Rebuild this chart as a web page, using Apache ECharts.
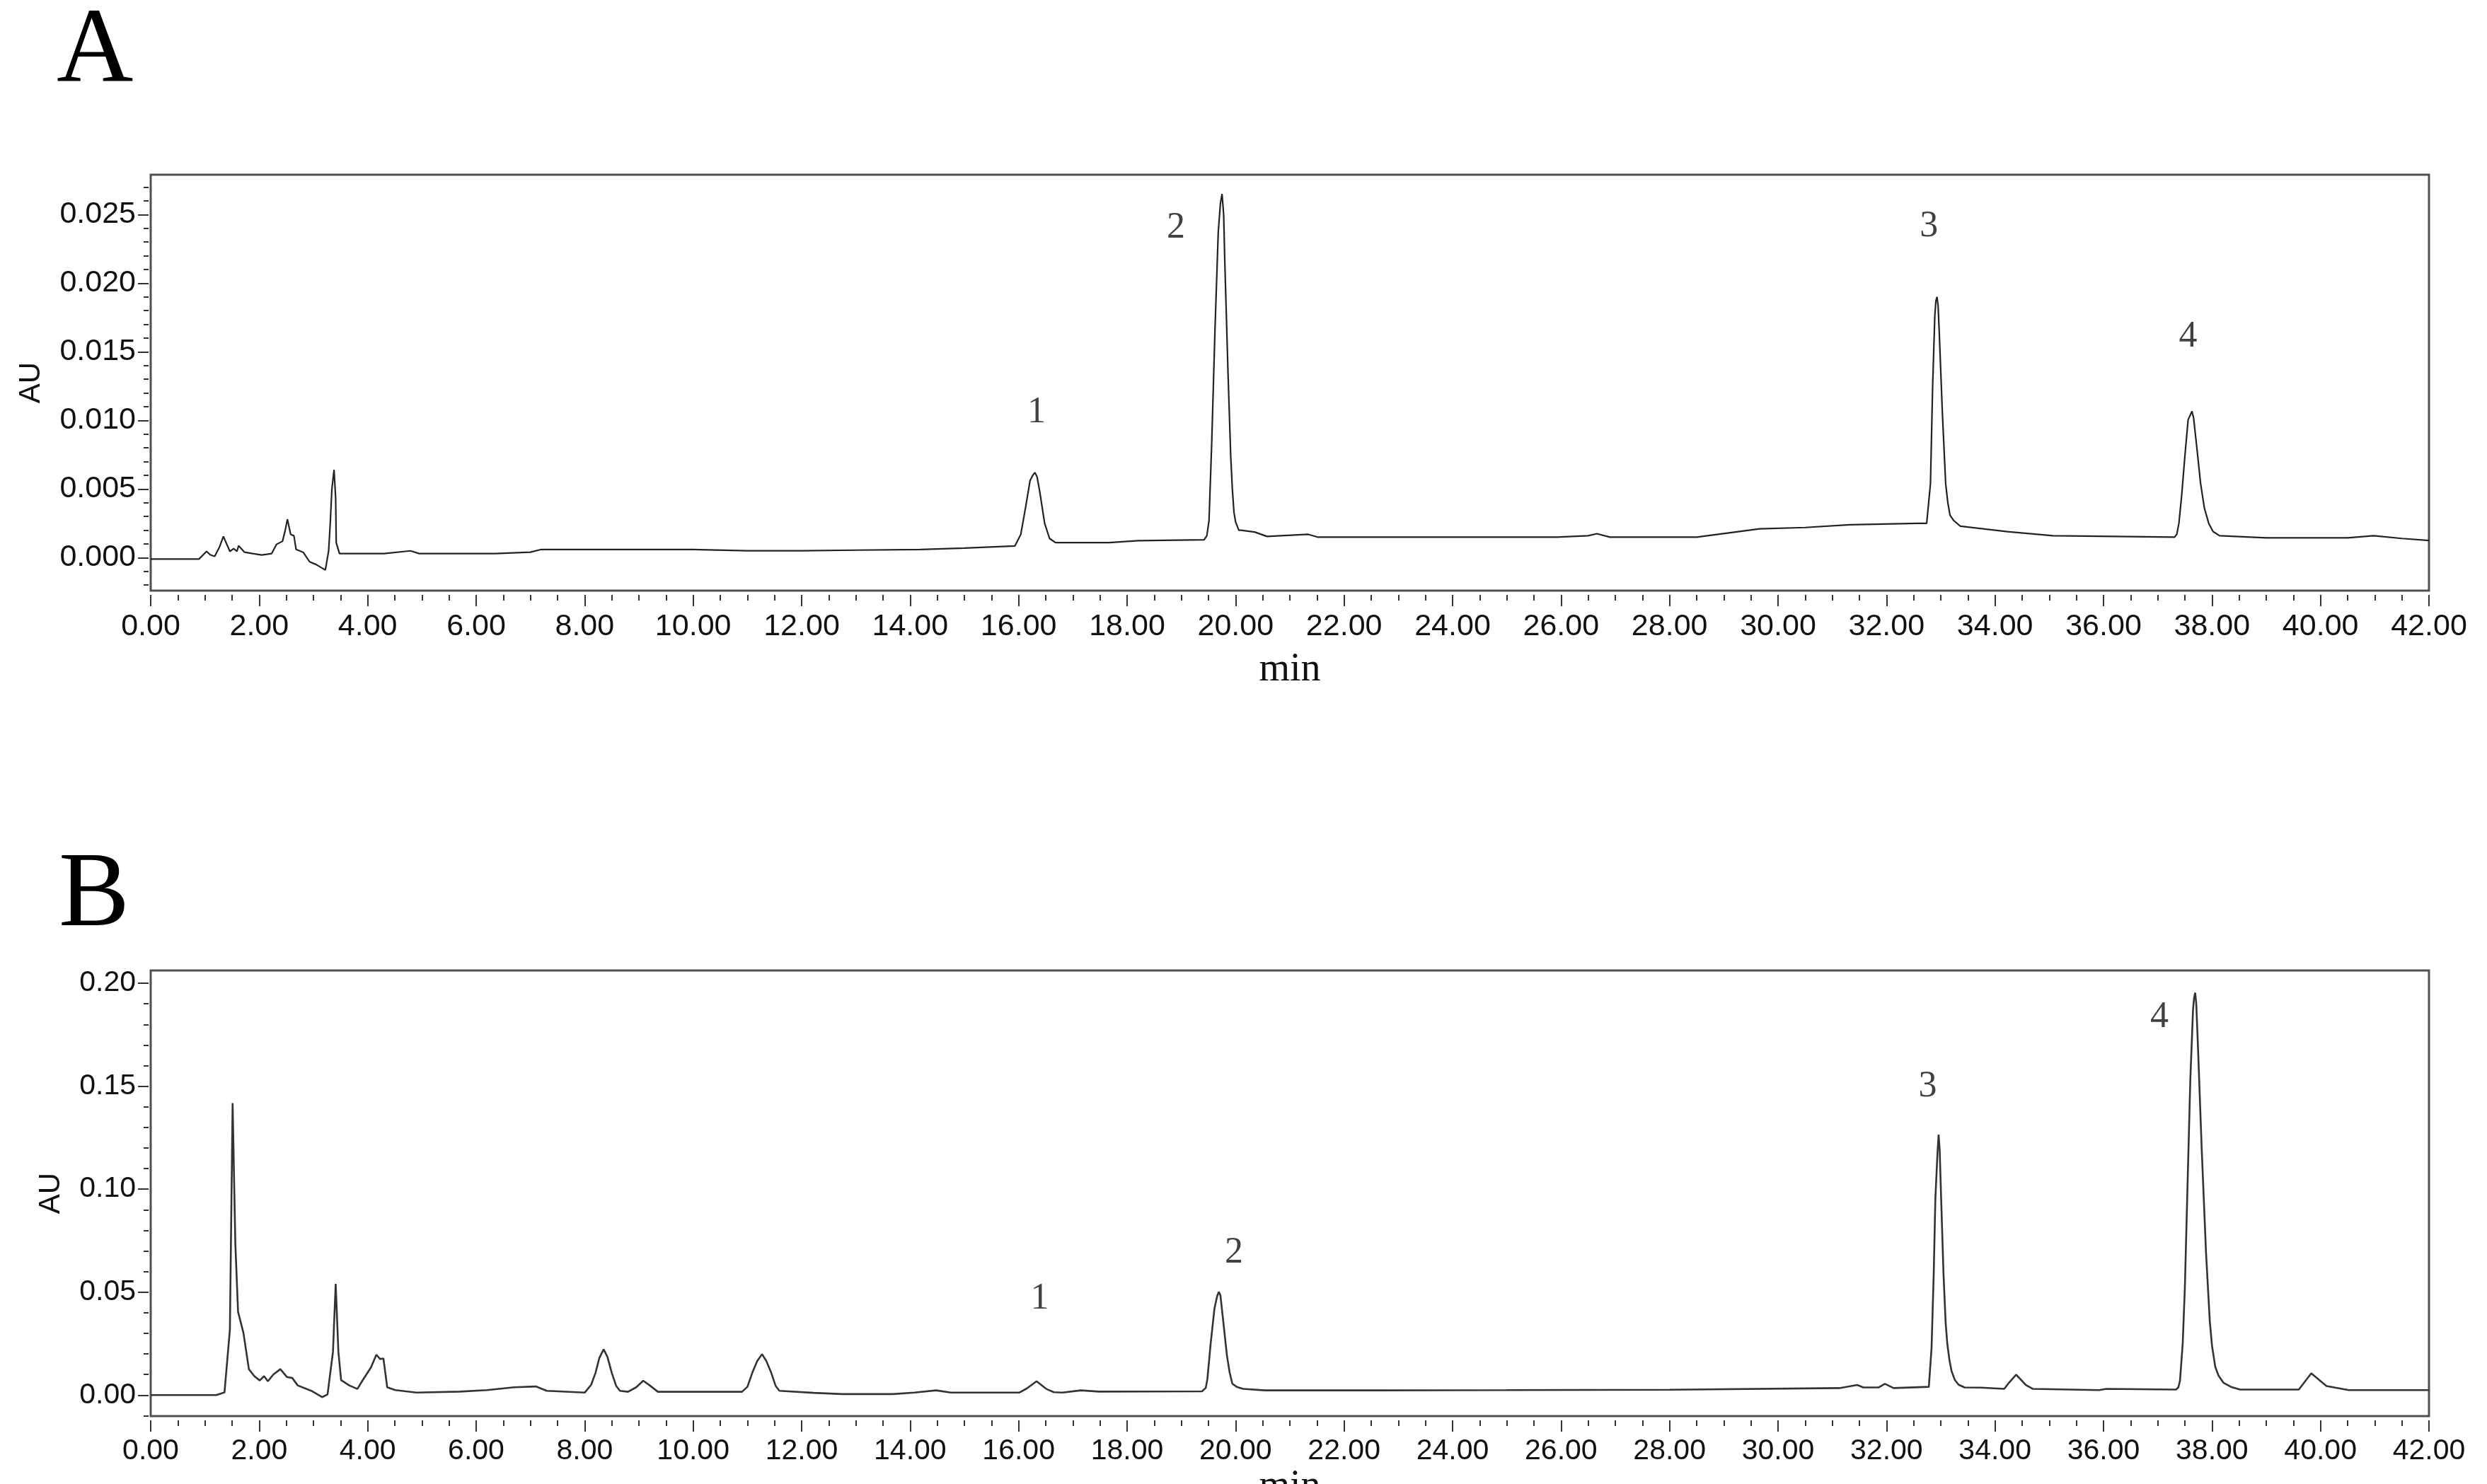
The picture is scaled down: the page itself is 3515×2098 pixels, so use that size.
<!DOCTYPE html>
<html>
<head>
<meta charset="utf-8">
<script src="https://cdn.jsdelivr.net/npm/echarts@6/dist/echarts.min.js"></script>
<style>
  html, body { margin: 0; padding: 0; background: #fff; }
  #chart { width: 3515px; height: 2098px; }
</style>
</head>
<body>
<div id="chart"></div>
<script>
// chromatogram A (standards)
const timeA = [0.00, 0.50, 0.89, 1.03, 1.10, 1.18, 1.27, 1.34, 1.40, 1.46, 1.53, 1.59, 1.62, 1.73, 1.88, 2.05, 2.23, 2.32, 2.43, 2.48,
  2.52, 2.58, 2.64, 2.68, 2.81, 2.93, 3.05, 3.22, 3.28, 3.31, 3.34, 3.38, 3.41, 3.42, 3.48, 3.80, 4.30, 4.79, 4.95, 5.50,
  6.35, 7.00, 7.20, 8.00, 9.00, 10.00, 11.00, 12.00, 13.00, 14.18, 15.00, 15.93, 16.04, 16.13, 16.21, 16.26, 16.30, 16.34, 16.39, 16.48,
  16.57, 16.68, 17.67, 18.20, 19.42, 19.47, 19.51, 19.56, 19.62, 19.68, 19.72, 19.75, 19.78, 19.80, 19.86, 19.91, 19.94, 19.97, 20.00, 20.06,
  20.10, 20.35, 20.58, 21.34, 21.51, 23.31, 25.92, 26.50, 26.66, 26.90, 28.50, 29.66, 30.50, 31.32, 32.57, 32.74, 32.81, 32.85, 32.89, 32.91,
  32.93, 32.95, 32.97, 33.03, 33.09, 33.13, 33.17, 33.24, 33.36, 34.23, 35.07, 37.31, 37.35, 37.39, 37.44, 37.50, 37.56, 37.60, 37.63, 37.66,
  37.71, 37.79, 37.86, 37.94, 38.02, 38.14, 39.00, 40.50, 40.98, 41.50, 42.00];
const auA = [-0.0001, -0.0001, -0.0001, 0.00046, 0.0002, 0.0001, 0.0008, 0.00155, 0.0010, 0.00046, 0.00066, 0.00046, 0.00087, 0.0004, 0.0003, 0.0002, 0.0003, 0.00097, 0.0012, 0.0020,
  0.0028, 0.0017, 0.0016, 0.0006, 0.0004, -0.0003, -0.0005, -0.0009, 0.0005, 0.0025, 0.0050, 0.0064, 0.0043, 0.0011, 0.0003, 0.0003, 0.0003, 0.0005, 0.0003, 0.0003,
  0.0003, 0.0004, 0.0006, 0.0006, 0.0006, 0.0006, 0.0005, 0.0005, 0.00055, 0.0006, 0.0007, 0.00085, 0.0017, 0.0037, 0.0056, 0.0060, 0.0062, 0.0059, 0.0048, 0.0025,
  0.0014, 0.0011, 0.0011, 0.00124, 0.0013, 0.0016, 0.0027, 0.0084, 0.0166, 0.0237, 0.0258, 0.0265, 0.0250, 0.0217, 0.0135, 0.0074, 0.0050, 0.0033, 0.0026, 0.0020,
  0.0020, 0.00187, 0.00155, 0.0017, 0.0015, 0.0015, 0.0015, 0.0016, 0.00175, 0.0015, 0.0015, 0.0021, 0.0022, 0.0024, 0.0025, 0.0025, 0.0054, 0.0125, 0.0176, 0.0187,
  0.0190, 0.0184, 0.0166, 0.0105, 0.0054, 0.0040, 0.0031, 0.0027, 0.0023, 0.0019, 0.0016, 0.0015, 0.0017, 0.0025, 0.0045, 0.0074, 0.01005, 0.0104, 0.01066, 0.0102,
  0.0084, 0.0054, 0.0036, 0.0025, 0.0019, 0.0016, 0.00145, 0.00145, 0.0016, 0.0014, 0.00125];

// chromatogram B (sample)
const timeB = [0.00, 1.21, 1.36, 1.46, 1.51, 1.56, 1.61, 1.71, 1.81, 1.91, 2.01, 2.09, 2.16, 2.26, 2.39, 2.51, 2.61, 2.71, 2.96, 3.16,
  3.26, 3.36, 3.41, 3.46, 3.51, 3.66, 3.81, 3.91, 4.06, 4.16, 4.23, 4.29, 4.36, 4.51, 4.90, 5.70, 6.20, 6.70, 7.10, 7.30,
  8.00, 8.12, 8.20, 8.27, 8.35, 8.42, 8.50, 8.58, 8.65, 8.80, 8.95, 9.08, 9.20, 9.35, 10.90, 11.00, 11.09, 11.18, 11.27, 11.35,
  11.44, 11.52, 11.59, 12.22, 12.75, 13.68, 14.08, 14.48, 14.75, 16.01, 16.15, 16.33, 16.51, 16.65, 16.81, 17.15, 17.48, 19.38, 19.45, 19.48,
  19.54, 19.61, 19.66, 19.69, 19.72, 19.77, 19.84, 19.89, 19.94, 20.02, 20.14, 20.54, 22.66, 25.00, 28.00, 31.13, 31.46, 31.57, 31.85, 31.97,
  32.13, 32.78, 32.83, 32.87, 32.90, 32.94, 32.96, 32.98, 33.00, 33.05, 33.09, 33.12, 33.16, 33.20, 33.26, 33.33, 33.44, 33.74, 34.17, 34.26,
  34.39, 34.57, 34.70, 35.92, 36.05, 37.34, 37.38, 37.41, 37.46, 37.50, 37.55, 37.60, 37.65, 37.67, 37.69, 37.71, 37.74, 37.81, 37.89, 37.96,
  38.00, 38.06, 38.12, 38.21, 38.35, 38.52, 39.60, 39.83, 40.11, 40.52, 42.00];
const auB = [0.0000, 0.0000, 0.0013, 0.0318, 0.1418, 0.0737, 0.0405, 0.0301, 0.0126, 0.0092, 0.0071, 0.0092, 0.0067, 0.0100, 0.0126, 0.0088, 0.0083, 0.0047, 0.0021, -0.0010,
  0.0003, 0.0210, 0.0540, 0.0210, 0.0073, 0.0047, 0.0030, 0.0073, 0.0134, 0.0196, 0.0175, 0.0178, 0.0038, 0.0024, 0.0012, 0.0017, 0.0024, 0.0038, 0.0042, 0.0021,
  0.0012, 0.0050, 0.0108, 0.0180, 0.0222, 0.0185, 0.0108, 0.0045, 0.0021, 0.0016, 0.0038, 0.0070, 0.0047, 0.0016, 0.0016, 0.0040, 0.0108, 0.0165, 0.0199, 0.0165,
  0.0108, 0.0045, 0.0021, 0.0011, 0.0005, 0.0005, 0.0012, 0.0023, 0.0012, 0.0012, 0.0032, 0.0067, 0.0030, 0.0014, 0.0012, 0.0023, 0.0017, 0.0018, 0.0035, 0.0078,
  0.0250, 0.0420, 0.0480, 0.0501, 0.0485, 0.0364, 0.0193, 0.0110, 0.0055, 0.0040, 0.0030, 0.0023, 0.0023, 0.0024, 0.0026, 0.0034, 0.0049, 0.0037, 0.0037, 0.0055,
  0.0034, 0.0040, 0.0229, 0.0590, 0.0952, 0.1180, 0.1265, 0.1190, 0.1012, 0.0590, 0.0350, 0.0250, 0.0169, 0.0115, 0.0073, 0.0050, 0.0037, 0.0036, 0.0030, 0.0061,
  0.0099, 0.0049, 0.0030, 0.0024, 0.0030, 0.0027, 0.0038, 0.0070, 0.0250, 0.0524, 0.1030, 0.1530, 0.1870, 0.1930, 0.1954, 0.1900, 0.1700, 0.1197, 0.0690, 0.0356,
  0.0240, 0.0137, 0.0095, 0.0060, 0.0040, 0.0027, 0.0027, 0.0106, 0.0044, 0.0024, 0.0024];

// peak numbers: [time, AU] where the label sits
const peakNames = ['1', '2', '3', '4'];
const peakPosA = [[16.33, 0.01056], [18.90, 0.0240], [32.78, 0.0241], [37.56, 0.01607]];
const peakPosB = [[16.39, 0.0466], [19.97, 0.069], [32.76, 0.1499], [37.03, 0.1833]];

// axis ticks
const xMin = 0, xMax = 42, xStep = 2;
const yRangeA = [-0.0024, 0.0279];
const yTicksA = [0, 0.005, 0.010, 0.015, 0.020, 0.025];
const yMinorA = [-0.002, -0.001, 0.001, 0.002, 0.003, 0.004, 0.006, 0.007, 0.008, 0.009, 0.011, 0.012, 0.013, 0.014,
  0.016, 0.017, 0.018, 0.019, 0.021, 0.022, 0.023, 0.024, 0.026, 0.027];
const yRangeB = [-0.0102, 0.2062];
const yTicksB = [0, 0.05, 0.10, 0.15, 0.20];
const yMinorB = [-0.01, 0.01, 0.02, 0.03, 0.04, 0.06, 0.07, 0.08, 0.09, 0.11, 0.12, 0.13, 0.14, 0.16, 0.17, 0.18, 0.19];

const sans = 'Liberation Sans';
const serif = 'Liberation Serif';
const ink = '#111';

const zip = (ts, vs) => ts.map((t, i) => [t, vs[i]]);

function xAxisFor(gridIndex, fontSize, margin, nameGap) {
  return {
    type: 'value', gridIndex, min: xMin, max: xMax, interval: xStep,
    position: 'bottom', offset: 6,
    axisLine: { show: false, onZero: false },
    axisTick: { show: true, length: 16, lineStyle: { color: '#333', width: 2 } },
    minorTick: { show: true, splitNumber: 4, length: 8, lineStyle: { color: '#333', width: 2 } },
    splitLine: { show: false },
    axisLabel: { fontFamily: sans, fontSize, color: ink, margin, formatter: v => v.toFixed(2) },
    name: 'min', nameLocation: 'middle', nameGap,
    nameTextStyle: { fontFamily: serif, fontSize: 56, color: ink }
  };
}

function yAxesFor(gridIndex, range, ticks, minor, digits, fontSize, nameGap) {
  return [{
    type: 'value', gridIndex, min: range[0], max: range[1], position: 'left', offset: 3,
    axisLine: { show: false, onZero: false },
    axisTick: { show: true, length: 15, customValues: ticks, lineStyle: { color: '#333', width: 2 } },
    splitLine: { show: false },
    axisLabel: { customValues: ticks, fontFamily: sans, fontSize, color: ink, margin: 18,
      formatter: v => v.toFixed(digits) },
    name: 'AU', nameLocation: 'middle', nameRotate: 90, nameGap,
    nameTextStyle: { fontFamily: sans, fontSize: 42, color: ink }
  }, {
    type: 'value', gridIndex, min: range[0], max: range[1], position: 'left', offset: 3,
    axisLine: { show: false, onZero: false },
    axisTick: { show: true, length: 7, customValues: minor, lineStyle: { color: '#333', width: 2 } },
    splitLine: { show: false },
    axisLabel: { show: false }
  }];
}

function peakLabels(xi, yi, pos) {
  return {
    type: 'scatter', xAxisIndex: xi, yAxisIndex: yi, symbolSize: 0, silent: true,
    data: pos.map((p, i) => ({ name: peakNames[i], value: p })),
    label: { show: true, position: 'inside', formatter: '{b}', fontFamily: serif, fontSize: 52, color: ink }
  };
}

const chart = echarts.init(document.getElementById('chart'), null, { renderer: 'canvas' });

chart.setOption({
  backgroundColor: '#fff',
  animation: false,
  title: [
    { text: 'A', left: 80, top: 0, padding: 0, textStyle: { fontFamily: serif, fontSize: 150, fontWeight: 'normal', color: '#000' } },
    { text: 'B', left: 83, top: 1194, padding: 0, textStyle: { fontFamily: serif, fontSize: 150, fontWeight: 'normal', color: '#000' } }
  ],
  grid: [
    { left: 213, top: 247, width: 3220, height: 588, outerBoundsMode: 'none',
      show: true, borderColor: '#505050', borderWidth: 3, backgroundColor: 'transparent' },
    { left: 213, top: 1372, width: 3220, height: 630, outerBoundsMode: 'none',
      show: true, borderColor: '#505050', borderWidth: 3, backgroundColor: 'transparent' }
  ],
  xAxis: [
    xAxisFor(0, 43, 24, 78),
    xAxisFor(1, 41, 23, 66)
  ],
  yAxis: [
    ...yAxesFor(0, yRangeA, yTicksA, yMinorA, 3, 43, 145),
    ...yAxesFor(1, yRangeB, yTicksB, yMinorB, 2, 41, 117)
  ],
  series: [
    {
      type: 'line', xAxisIndex: 0, yAxisIndex: 0, data: zip(timeA, auA),
      showSymbol: false, symbol: 'none', smooth: false, silent: true,
      lineStyle: { color: '#222', width: 2.2 }
    },
    {
      type: 'line', xAxisIndex: 1, yAxisIndex: 2, data: zip(timeB, auB),
      showSymbol: false, symbol: 'none', smooth: false, silent: true,
      lineStyle: { color: '#333', width: 2.6 }
    },
    peakLabels(0, 0, peakPosA),
    peakLabels(1, 2, peakPosB)
  ]
});
</script>
</body>
</html>
